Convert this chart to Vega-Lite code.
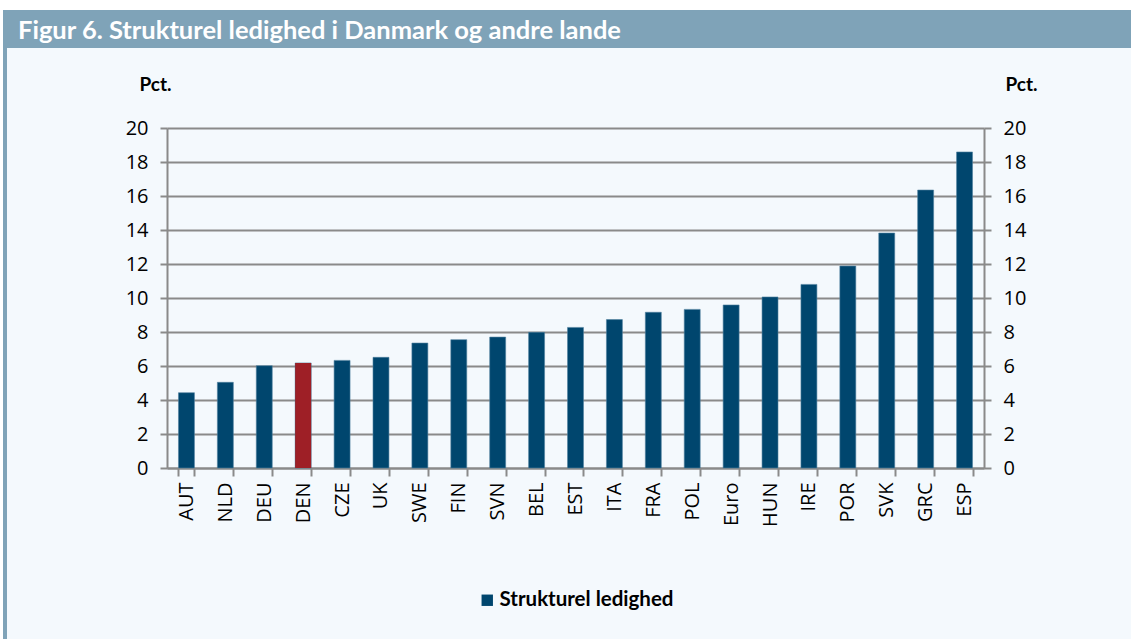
{
  "$schema": "https://vega.github.io/schema/vega-lite/v6.json",
  "width": 817,
  "height": 340,
  "autosize": "none",
  "padding": {"left": 167, "top": 128, "right": 147, "bottom": 171},
  "background": "#f4f9fd",
  "config": {"view": {"stroke": null}},
  "resolve": {"scale": {"x": "independent", "y": "independent", "color": "independent"}},
  "layer": [
    {
      "data": {"values": [{"title": "Figur 6. Strukturel ledighed i Danmark og andre lande"}]},
      "layer": [
        {
          "mark": {"type": "rect", "color": "#ffffff", "clip": false},
          "encoding": {
            "x": {"datum": -167, "type": "quantitative", "scale": {"domain": [0, 817], "nice": false, "zero": false}, "axis": null},
            "x2": {"datum": 964},
            "y": {"datum": 468, "type": "quantitative", "scale": {"domain": [0, 340], "nice": false, "zero": false}, "axis": null},
            "y2": {"datum": 458}
          }
        },
        {
          "mark": {"type": "rect", "color": "#ffffff", "clip": false},
          "encoding": {
            "x": {"datum": -167, "type": "quantitative", "scale": {"domain": [0, 817], "nice": false, "zero": false}, "axis": null},
            "x2": {"datum": -164},
            "y": {"datum": 468, "type": "quantitative", "scale": {"domain": [0, 340], "nice": false, "zero": false}, "axis": null},
            "y2": {"datum": -171}
          }
        },
        {
          "mark": {"type": "rect", "color": "#7fa3b8", "clip": false},
          "encoding": {
            "x": {"datum": -164, "type": "quantitative", "scale": {"domain": [0, 817], "nice": false, "zero": false}, "axis": null},
            "x2": {"datum": 964},
            "y": {"datum": 458, "type": "quantitative", "scale": {"domain": [0, 340], "nice": false, "zero": false}, "axis": null},
            "y2": {"datum": 420}
          }
        },
        {
          "mark": {"type": "rect", "color": "#7fa3b8", "clip": false},
          "encoding": {
            "x": {"datum": -164, "type": "quantitative", "scale": {"domain": [0, 817], "nice": false, "zero": false}, "axis": null},
            "x2": {"datum": -160},
            "y": {"datum": 420, "type": "quantitative", "scale": {"domain": [0, 340], "nice": false, "zero": false}, "axis": null},
            "y2": {"datum": -171}
          }
        },
        {
          "mark": {"type": "text", "align": "left", "baseline": "middle", "font": "Lato", "fontWeight": "bold", "fontSize": 25.5, "color": "#ffffff", "clip": false},
          "encoding": {
            "text": {"field": "title"},
            "x": {"datum": -149, "type": "quantitative", "scale": {"domain": [0, 817], "nice": false, "zero": false}, "axis": null},
            "y": {"datum": 437, "type": "quantitative", "scale": {"domain": [0, 340], "nice": false, "zero": false}, "axis": null}
          }
        }
      ]
    },
    {
      "data": {
        "values": [
          {"land": "AUT", "value": 4.43, "serie": "Strukturel ledighed"},
          {"land": "NLD", "value": 5.04, "serie": "Strukturel ledighed"},
          {"land": "DEU", "value": 6.02, "serie": "Strukturel ledighed"},
          {"land": "DEN", "value": 6.18, "serie": "Strukturel ledighed"},
          {"land": "CZE", "value": 6.33, "serie": "Strukturel ledighed"},
          {"land": "UK", "value": 6.51, "serie": "Strukturel ledighed"},
          {"land": "SWE", "value": 7.35, "serie": "Strukturel ledighed"},
          {"land": "FIN", "value": 7.55, "serie": "Strukturel ledighed"},
          {"land": "SVN", "value": 7.7, "serie": "Strukturel ledighed"},
          {"land": "BEL", "value": 7.98, "serie": "Strukturel ledighed"},
          {"land": "EST", "value": 8.27, "serie": "Strukturel ledighed"},
          {"land": "ITA", "value": 8.73, "serie": "Strukturel ledighed"},
          {"land": "FRA", "value": 9.16, "serie": "Strukturel ledighed"},
          {"land": "POL", "value": 9.33, "serie": "Strukturel ledighed"},
          {"land": "Euro", "value": 9.59, "serie": "Strukturel ledighed"},
          {"land": "HUN", "value": 10.06, "serie": "Strukturel ledighed"},
          {"land": "IRE", "value": 10.8, "serie": "Strukturel ledighed"},
          {"land": "POR", "value": 11.88, "serie": "Strukturel ledighed"},
          {"land": "SVK", "value": 13.82, "serie": "Strukturel ledighed"},
          {"land": "GRC", "value": 16.35, "serie": "Strukturel ledighed"},
          {"land": "ESP", "value": 18.59, "serie": "Strukturel ledighed"}
        ]
      },
      "resolve": {"axis": {"y": "independent"}},
      "layer": [
        {
          "mark": {"type": "bar", "stroke": "#4f7f9e", "strokeWidth": 0.6},
          "encoding": {
            "x": {
              "field": "land", "type": "nominal", "sort": null,
              "scale": {"paddingInner": 0.59, "paddingOuter": 0.295},
              "axis": {
                "title": null, "labelAngle": -90, "labelFont": "Open Sans", "labelFontSize": 20, "labelColor": "#000000",
                "labelPadding": 6, "tickBand": "extent", "tickSize": 8, "tickColor": "#8a8a8a", "tickWidth": 2,
                "domainColor": "#8a8a8a", "domainWidth": 2, "grid": false
              }
            },
            "y": {
              "field": "value", "type": "quantitative",
              "scale": {"domain": [0, 20], "nice": false},
              "axis": {
                "orient": "left", "values": [0, 2, 4, 6, 8, 10, 12, 14, 16, 18, 20],
                "title": "Pct.", "titleAngle": 0, "titleX": -12, "titleY": -44, "titleAlign": "center", "titleBaseline": "middle",
                "titleFont": "Lato", "titleFontWeight": "bold", "titleFontSize": 19, "titleColor": "#000000",
                "labelFont": "Open Sans", "labelFontSize": 20, "labelColor": "#000000", "labelPadding": 12,
                "tickSize": 7, "tickColor": "#8a8a8a", "tickWidth": 2,
                "domainColor": "#8a8a8a", "domainWidth": 2,
                "grid": true, "gridColor": "#8a8a8a", "gridWidth": 2
              }
            },
            "color": {
              "field": "serie", "type": "nominal",
              "scale": {"domain": ["Strukturel ledighed"], "range": ["#00466e"]},
              "legend": {
                "orient": "none", "legendX": 310, "legendY": 462, "title": null,
                "symbolType": "square", "symbolSize": 130, "symbolStrokeWidth": 0, "labelLimit": 400,
                "labelFont": "Lato", "labelFontWeight": "bold", "labelFontSize": 20.5, "labelColor": "#000000", "labelOffset": 2
              }
            }
          }
        },
        {
          "transform": [{"filter": "datum.land === 'DEN'"}],
          "mark": {"type": "bar", "color": "#9e1f26"},
          "encoding": {
            "x": {"field": "land", "type": "nominal", "sort": null},
            "y": {"field": "value", "type": "quantitative", "axis": null}
          }
        },
        {
          "mark": {"type": "bar", "opacity": 0},
          "encoding": {
            "x": {"field": "land", "type": "nominal", "sort": null},
            "y": {
              "field": "value", "type": "quantitative",
              "axis": {
                "orient": "right", "values": [0, 2, 4, 6, 8, 10, 12, 14, 16, 18, 20],
                "title": "Pct.", "titleAngle": 0, "titleX": 37, "titleY": -44, "titleAlign": "center", "titleBaseline": "middle",
                "titleFont": "Lato", "titleFontWeight": "bold", "titleFontSize": 19, "titleColor": "#000000",
                "labelFont": "Open Sans", "labelFontSize": 20, "labelColor": "#000000", "labelPadding": 12,
                "tickSize": 7, "tickColor": "#8a8a8a", "tickWidth": 2,
                "domainColor": "#8a8a8a", "domainWidth": 2, "grid": false
              }
            }
          }
        }
      ]
    }
  ]
}
